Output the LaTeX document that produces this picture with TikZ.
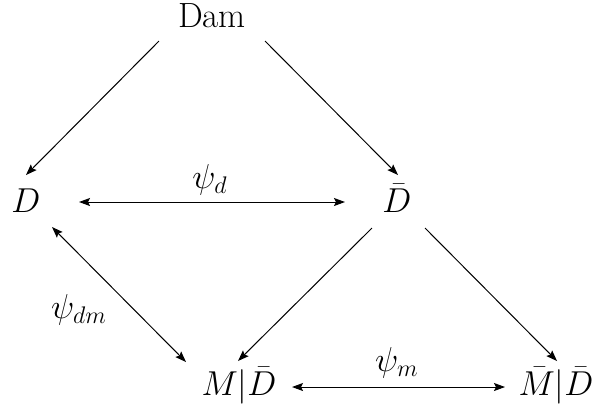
\documentclass[tikz,border=0pt]{standalone}
\usetikzlibrary{calc,arrows.meta}
\begin{document}
\begin{tikzpicture}[x=0.5pt,y=-0.5pt,
  lbl/.style={inner sep=0pt,font=\fontsize{17}{20}\selectfont},
  txt/.style={inner sep=0pt,anchor=base,font=\fontsize{17}{20}\selectfont},
  conn/.style={line width=0.5pt,-{Stealth[length=5.5pt,width=4pt,inset=1pt]}},
  bconn/.style={line width=0.5pt,{Stealth[length=5.5pt,width=4pt,inset=1pt]}-{Stealth[length=5.5pt,width=4pt,inset=1pt]}}]
\useasboundingbox (0,0) rectangle (592,409);
\node[txt,font=\fontsize{17.5}{20}\selectfont] (dam) at (212,27) {Dam};
\node[txt] (D) at (26,212) {$D$};
\node[txt] (Db) at (397,212) {$\bar{D}$};
\node[txt] (MD) at (239,395) {$M|\bar{D}$};
\node[txt] (MbD) at (556,395) {$\bar{M}|\bar{D}$};
\node[lbl] (pd) at (210,180) {$\psi_d$};
\node[lbl] (pm) at (397,363) {$\psi_m$};
\node[lbl] (pdm) at (79,310) {$\psi_{dm}$};
\draw[conn] ($(dam.base)+(-53,14)$) -- ($(D.base)+(0,-37)$);
\draw[conn] ($(dam.base)+(53,14)$) -- ($(Db.base)+(1,-37)$);
\draw[bconn] ($(D.base)+(53,-10)$) -- ($(Db.base)+(-52,-10)$);
\draw[bconn] ($(D.base)+(26,15)$) -- ($(MD.base)+(-53,-33)$);
\draw[conn] ($(Db.base)+(-25,16)$) -- ($(MD.base)+(-1,-34)$);
\draw[conn] ($(Db.base)+(28,16)$) -- ($(MbD.base)+(1,-34)$);
\draw[bconn] ($(MD.base)+(53,-8)$) -- ($(MbD.base)+(-51,-8)$);
\end{tikzpicture}
\end{document}
